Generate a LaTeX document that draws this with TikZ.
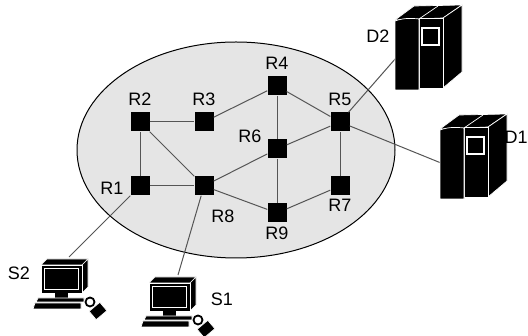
\documentclass[tikz,border=0pt]{standalone}
\usepackage{fontspec}
\setmainfont{Liberation Sans}
\usetikzlibrary{positioning}
\definecolor{cloudgray}{RGB}{229,229,229}
\definecolor{wire}{RGB}{85,85,85}
\tikzset{
  router/.style={fill=black,minimum size=19pt,inner sep=0pt},
  lbl/.style={font=\fontsize{18}{20}\selectfont,inner sep=0pt},
  link/.style={draw=wire,line width=1pt},
  cloud/.style={fill=cloudgray,draw=black,line width=1pt},
  face/.style={fill=black,draw=white,line width=0.7pt,line join=round},
  % pictograms
  pics/computer/.style={code={
    \fill[face] (0,0) -- (6,-6) -- (47,-6) -- (41,0) -- cycle;
    \fill[face] (41,0) -- (47,-6) -- (47,22) -- (41,28) -- cycle;
    \fill[face] (0,0) rectangle (41,28);
    \draw[white,line width=1.3pt] (3.5,3.5) rectangle (37.5,24.5);
    \fill[black] (14,28) rectangle (27,33);
    \fill[face] (-3,33) -- (43,33) -- (43,37) -- (-5,37) -- cycle;
    \fill[face] (-6,38) -- (40,38) -- (40,44) -- (-8,44) -- cycle;
    \draw[white,line width=3pt] (49,37) circle (4.5);
    \draw[black,line width=1.8pt] (49,37) circle (4.5);
    \fill[face,rotate around={40:(57,46)}] (50,40.5) rectangle (64,51.5);
  }},
  pics/server/.style={code={
    \fill[face] (0,2) -- (19,-12) -- (67,-13) -- (48,0) -- cycle;
    \draw[white,line width=0.7pt] (24,1) -- (43,-12);
    \fill[face] (48,0) -- (67,-13) -- (67,54) -- (48,70) -- cycle;
    \fill[face] (24,0) rectangle (48,70);
    \fill[face] (0,3) .. controls (8,0) and (16,0) .. (24,1) -- (24,72) -- (0,72) -- cycle;
    \draw[white,line width=1.1pt] (27,10) rectangle (44,27);
  }},
}
\begin{document}
\begin{tikzpicture}[x=1pt,y=-1pt]
  \useasboundingbox[fill=white] (0,0) rectangle (528,336);
  \draw[cloud] (236,150) ellipse [x radius=159pt,y radius=108pt];

  % routers
  \node[router] (R1) at (140,186) {};
  \node[router] (R2) at (140,122) {};
  \node[router] (R3) at (204,122) {};
  \node[router] (R4) at (277,86) {};
  \node[router] (R5) at (340,122) {};
  \node[router] (R6) at (277,149) {};
  \node[router] (R7) at (340,186) {};
  \node[router] (R8) at (204,186) {};
  \node[router] (R9) at (277,213) {};

  \node[lbl] (l1) at (112,188) {R1};
  \node[lbl] (l2) at (140,99) {R2};
  \node[lbl] (l3) at (204,99) {R3};
  \node[lbl] (l4) at (277,63) {R4};
  \node[lbl] (l5) at (340,99) {R5};
  \node[lbl] (l6) at (250,136) {R6};
  \node[lbl] (l7) at (340,205) {R7};
  \node[lbl] (l8) at (223,216) {R8};
  \node[lbl] (l9) at (277,233) {R9};

  \foreach \a/\b in {R1/R2,R1/R8,R2/R3,R2/R8,R3/R4,R4/R5,R4/R6,R6/R5,
                     R6/R8,R6/R9,R8/R9,R9/R7,R7/R5}
    \draw[link] (\a) -- (\b);

  % hosts and servers hang off the edge routers
  \coordinate (s2in) at (69,257);
  \coordinate (s1in) at (178,275);
  \coordinate (d2in) at (396,58);
  \coordinate (d1in) at (441,163);
  \draw[link] (R1) -- (s2in);
  \draw[link] (R8) -- (s1in);
  \draw[link] (R5) -- (d2in);
  \draw[link] (R5) -- (d1in);

  \pic at (41,265) {computer};
  \pic at (149,283) {computer};
  \pic at (395,18) {server};
  \pic at (440,127) {server};

  \node[lbl] (s2) at (19,273) {S2};
  \node[lbl] (s1) at (222,299) {S1};
  \node[lbl] (d2) at (378,36) {D2};
  \node[lbl,anchor=west] (d1) at (504.5,137) {D1};
\end{tikzpicture}
\end{document}
